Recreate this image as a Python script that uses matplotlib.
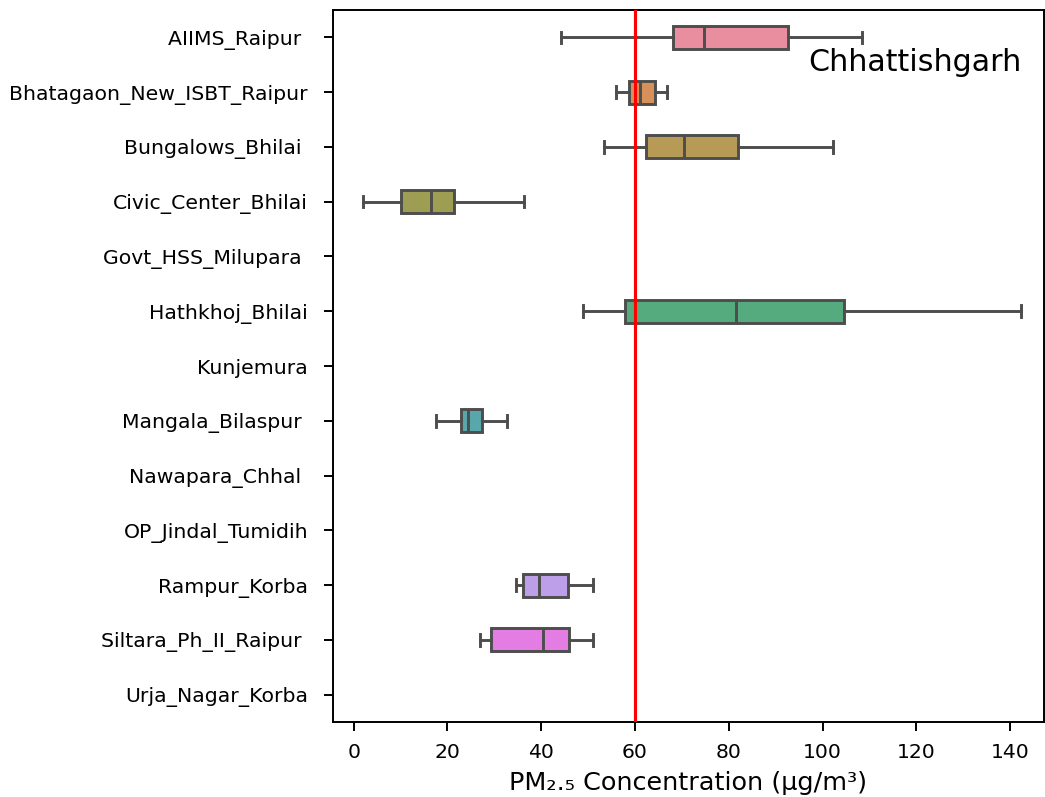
import matplotlib
matplotlib.use("Agg")
import matplotlib.pyplot as plt
import seaborn as sns
import numpy as np

stations = ["AIIMS_Raipur ", "Bhatagaon_New_ISBT_Raipur", "Bungalows_Bhilai ",
            "Civic_Center_Bhilai", "Govt_HSS_Milupara ", "Hathkhoj_Bhilai",
            "Kunjemura", "Mangala_Bilaspur ", "Nawapara_Chhal ", "OP_Jindal_Tumidih",
            "Rampur_Korba", "Siltara_Ph_II_Raipur ", "Urja_Nagar_Korba"]

# whisker low, Q1, median, Q3, whisker high (None = no data)
whislo = [44.3, 56.0, 53.3, 2.1, None, 48.9, None, 17.5, None, None, 34.6, 27.0, None]
q1     = [68.2, 58.7, 62.3, 10.0, None, 57.9, None, 22.9, None, None, 36.2, 29.3, None]
med    = [74.7, 61.1, 70.5, 16.5, None, 81.6, None, 24.3, None, None, 39.6, 40.3, None]
q3     = [92.6, 64.2, 82.0, 21.4, None, 104.6, None, 27.3, None, None, 45.8, 46.0, None]
whishi = [108.4, 66.8, 102.3, 36.4, None, 142.3, None, 32.7, None, None, 51.1, 51.1, None]

limit_value = 60
state_name = "Chhattishgarh"

DPI = 140
fig = plt.figure(figsize=(1045 / DPI, 797 / DPI), dpi=DPI)
W, H = 1045, 797
ax = fig.add_axes([333 / W, (H - 722) / H, (1044 - 333) / W, (722 - 10) / H])

pal = sns.color_palette("husl", len(stations))
pal = [sns.desaturate(c, 0.75) for c in pal]
pal = [tuple(0.9 * np.array(c) + 0.1) for c in pal]
line_c = "#4d4d4d"

n = len(stations)
for i in range(n):
    if med[i] is None:
        continue
    st = [dict(whislo=whislo[i], q1=q1[i], med=med[i], q3=q3[i], whishi=whishi[i], fliers=[])]
    ax.bxp(st, positions=[i], widths=0.42, vert=False, patch_artist=True,
           showfliers=False,
           boxprops=dict(facecolor=pal[i], edgecolor=line_c, linewidth=1.5),
           medianprops=dict(color=line_c, linewidth=1.5),
           whiskerprops=dict(color=line_c, linewidth=1.5),
           capprops=dict(color=line_c, linewidth=1.5))

ax.axvline(limit_value, color="red", linewidth=1.6, zorder=5)

ax.set_yticks(range(n))
ax.set_yticklabels(stations, fontsize=10.5)
ax.set_ylim(n - 0.5, -0.5)
ax.set_xlim(-4.4, 147.2)
ax.set_xticks(np.arange(0, 141, 20))
ax.tick_params(axis="y", length=4.6, width=1.0, pad=8.2)
ax.tick_params(axis="x", labelsize=10.5, length=4.6, width=1.0, pad=6)
for s in ax.spines.values():
    s.set_linewidth(1.0)
ax.set_xlabel("PM\u2082.\u2085 Concentration (\u00b5g/m\u00b3)", fontsize=13.1, labelpad=5)
ax.text(0.969, 0.946, state_name, transform=ax.transAxes, ha="right", va="top", fontsize=15.5)

fig.savefig("out.png", dpi=DPI)
